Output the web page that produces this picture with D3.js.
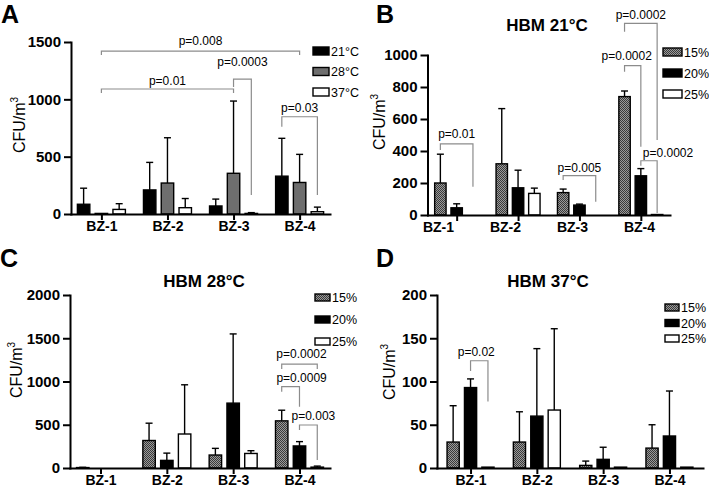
<!DOCTYPE html>
<html>
<head>
<meta charset="utf-8">
<script src="https://cdnjs.cloudflare.com/ajax/libs/d3/7.8.5/d3.min.js"></script>
<style>
  html, body { margin: 0; padding: 0; background: #fff; }
  svg { display: block; font-family: Arial, "Liberation Sans", Helvetica, sans-serif; }
</style>
</head>
<body>
<div id="chart"></div>
<script>
// categories and legend labels
const categories = ['BZ-1', 'BZ-2', 'BZ-3', 'BZ-4'];
const tempLabels = ['21°C', '28°C', '37°C'];
const humLabels = ['15%', '20%', '25%'];

// A: mean and top of error bar (CFU/m3)
const aMean21 = [85, 210, 70, 330];
const aTop21 = [225, 450, 130, 660];
const aMean28 = [5, 270, 355, 275];
const aTop28 = [5, 665, 985, 520];
const aMean37 = [40, 55, 5, 20];
const aTop37 = [90, 135, 12, 60];

// B: HBM 21°C
const bMean15 = [200, 320, 140, 740];
const bTop15 = [380, 665, 162, 775];
const bMean20 = [45, 170, 62, 245];
const bTop20 = [70, 280, 68, 290];
const bMean25 = [0, 135, 0, 3];
const bTop25 = [0, 168, 0, 3];

// C: HBM 28°C
const cMean15 = [5, 318, 150, 545];
const cTop15 = [8, 518, 227, 668];
const cMean20 = [0, 88, 750, 255];
const cTop20 = [0, 172, 1550, 305];
const cMean25 = [0, 393, 168, 10];
const cTop25 = [0, 962, 200, 22];

// D: HBM 37°C
const dMean15 = [30, 30, 3, 23];
const dTop15 = [72, 65, 8, 50];
const dMean20 = [93, 60, 10, 37];
const dTop20 = [103, 138, 24, 89];
const dMean25 = [1, 67, 1, 1];
const dTop25 = [1, 161, 1, 1];

// significance brackets: [cat1, series1, cat2, series2, top, leftEnd, rightEnd, label]
const aBrackets = [
  ['BZ-1', 1, 'BZ-4', 1, 1421, 1386, 1386, 'p=0.008'],
  ['BZ-1', 1, 'BZ-3', 1, 1090, 1055, 1055, 'p=0.01'],
  ['BZ-3', 1, 'BZ-3', 2, 1177, 1107, 165, 'p=0.0003'],
  ['BZ-4', 0, 'BZ-4', 2, 848, 761, 165, 'p=0.03']
];
const bBrackets = [
  ['BZ-1', 0, 'BZ-1', 2, 444, 406, 177, 'p=0.01'],
  ['BZ-3', 0, 'BZ-3', 2, 246, 219, 83, 'p=0.005'],
  ['BZ-4', 0, 'BZ-4', 2, 1198, 1146, 469, 'p=0.0002'],
  ['BZ-4', 0, 'BZ-4', 1, 933, 896, 427, 'p=0.0002'],
  ['BZ-4', 1, 'BZ-4', 2, 339, 308, 12, 'p=0.0002']
];
const cBrackets = [
  ['BZ-4', 0, 'BZ-4', 2, 1202, 1145, 1145, 'p=0.0002'],
  ['BZ-4', 0, 'BZ-4', 1, 940, 882, 709, 'p=0.0009'],
  ['BZ-4', 1, 'BZ-4', 2, 497, 439, 92, 'p=0.003']
];
const dBrackets = [
  ['BZ-1', 1, 'BZ-1', 2, 124, 112, 77, 'p=0.02']
];

const W = 709, H = 496;
const GRAY = '#6e6e6e';
const BRACKET = '#8c8c8c';

const svg = d3.select('#chart').append('svg').attr('width', W).attr('height', H);

const defs = svg.append('defs');
const pat = defs.append('pattern').attr('id', 'chk')
  .attr('width', 2).attr('height', 2).attr('patternUnits', 'userSpaceOnUse');
pat.append('rect').attr('width', 2).attr('height', 2).attr('fill', '#9a9a9a');
pat.append('rect').attr('width', 1).attr('height', 1).attr('fill', '#3a3a3a');
pat.append('rect').attr('x', 1).attr('y', 1).attr('width', 1).attr('height', 1).attr('fill', '#3a3a3a');

const tempFills = ['#000', GRAY, '#fff'];
const humFills = ['url(#chk)', '#000', '#fff'];

const panels = [
  {
    letter: 'A', lx: 1, ly: 23, title: null,
    yMax: 1500, ticks: [0, 500, 1000, 1500], y0: 214, yTop: 42,
    x0: 71, x1: 330, pad: 0.46, half: 24,
    series: tempLabels, fills: tempFills,
    means: [aMean21, aMean28, aMean37], tops: [aTop21, aTop28, aTop37],
    brackets: aBrackets, labelLift: [6, 4, 13, 5], labelDx: [0, 0, 0, 0],
    ylabX: 25, ylabY: 125,
    legX: 313, legY: 47, legW: 16, legH: 8, legStep: 20.5
  },
  {
    letter: 'B', lx: 376, ly: 23, title: 'HBM 21°C', tx: 547, ty: 31,
    yMax: 1000, ticks: [0, 200, 400, 600, 800, 1000], y0: 215, yTop: 55,
    x0: 427.5, x1: 670, pad: 0.475, half: 22, labels: [438, 639],
    series: humLabels, fills: humFills,
    means: [bMean15, bMean20, bMean25], tops: [bTop15, bTop20, bTop25],
    brackets: bBrackets, labelLift: [6, 4, 4, 6, 4], labelDx: [0, 0, 0, -6, 19],
    ylabX: 385, ylabY: 122,
    legX: 663, legY: 48, legW: 19, legH: 8, legStep: 21
  },
  {
    letter: 'C', lx: 0, ly: 267, title: 'HBM 28°C', tx: 204, ty: 287,
    yMax: 2000, ticks: [0, 500, 1000, 1500, 2000], y0: 468, yTop: 295,
    x0: 70, x1: 330, pad: 0.46, half: 24,
    series: humLabels, fills: humFills,
    means: [cMean15, cMean20, cMean25], tops: [cTop15, cTop20, cTop25],
    brackets: cBrackets, labelLift: [6, 5, 5], labelDx: [2, 11, 5],
    ylabX: 22, ylabY: 370,
    legX: 315, legY: 294, legW: 15, legH: 7, legStep: 22
  },
  {
    letter: 'D', lx: 376, ly: 267, title: 'HBM 37°C', tx: 548, ty: 287,
    yMax: 200, ticks: [0, 50, 100, 150, 200], y0: 468, yTop: 295,
    x0: 437, x1: 703, pad: 0.506, half: 23.5,
    series: humLabels, fills: humFills,
    means: [dMean15, dMean20, dMean25], tops: [dTop15, dTop20, dTop25],
    brackets: dBrackets, labelLift: [5], labelDx: [-3],
    ylabX: 395, ylabY: 372,
    legX: 665, legY: 304, legW: 14, legH: 7, legStep: 15.5
  }
];

panels.forEach(drawPanel);

function drawPanel(p) {
  const g = svg.append('g');
  const y = d3.scaleLinear().domain([0, p.yMax]).range([p.y0, p.yTop]);
  const x = d3.scalePoint().domain(categories).range([p.x0, p.x1]).padding(p.pad);
  const sub = d3.scaleBand().domain(d3.range(p.series.length)).range([-p.half, p.half]).paddingInner(0.3);
  const bw = sub.bandwidth();
  const cx = (c, s) => x(c) + sub(s) + bw / 2;

  // bars
  p.series.forEach((name, si) => {
    const rows = categories.map((c, i) => ({ c, v: p.means[si][i], top: p.tops[si][i] }));
    g.selectAll(null)
      .data(rows.filter((d) => d.v > 0))
      .enter()
      .append('rect')
      .attr('x', (d) => x(d.c) + sub(si))
      .attr('y', (d) => y(d.v))
      .attr('width', bw)
      .attr('height', (d) => y(0) - y(d.v))
      .attr('fill', p.fills[si])
      .attr('stroke', '#000')
      .attr('stroke-width', 1.4);

    const err = rows.filter((d) => d.top > d.v);
    g.selectAll(null)
      .data(err)
      .enter()
      .append('line')
      .attr('x1', (d) => cx(d.c, si))
      .attr('x2', (d) => cx(d.c, si))
      .attr('y1', (d) => y(d.v))
      .attr('y2', (d) => y(d.top))
      .attr('stroke', '#000')
      .attr('stroke-width', 1.4);
    g.selectAll(null)
      .data(err)
      .enter()
      .append('line')
      .attr('x1', (d) => cx(d.c, si) - 3.5)
      .attr('x2', (d) => cx(d.c, si) + 3.5)
      .attr('y1', (d) => y(d.top))
      .attr('y2', (d) => y(d.top))
      .attr('stroke', '#000')
      .attr('stroke-width', 1.4);
  });

  // axes
  const ya = g.append('g')
    .attr('transform', `translate(${p.x0},0)`)
    .call(d3.axisLeft(y).tickValues(p.ticks).tickSize(7).tickPadding(3).tickSizeOuter(0).tickFormat(d3.format('d')));
  ya.selectAll('text').attr('fill', '#000').style('font-size', '15px').style('font-weight', 'bold');

  const xa = g.append('g')
    .attr('transform', `translate(0,${p.y0})`)
    .call(d3.axisBottom(x).tickSize(6).tickPadding(1).tickSizeOuter(0));
  xa.selectAll('text').attr('fill', '#000').style('font-size', '14px').style('font-weight', 'bold');
  if (p.labels) {
    const lx = d3.scalePoint().domain(categories).range(p.labels);
    xa.selectAll('.tick text').attr('x', (d) => lx(d) - x(d));
  }
  [ya, xa].forEach((a) => {
    a.select('.domain').attr('stroke', '#000').attr('stroke-width', 2).attr('stroke-linecap', 'square');
    a.selectAll('.tick line').attr('stroke', '#000').attr('stroke-width', 2);
  });

  // significance brackets
  p.brackets.forEach((b, i) => {
    const [c1, s1, c2, s2, top, l, r, label] = b;
    const xl = cx(c1, s1), xr = cx(c2, s2);
    g.append('path')
      .attr('d', `M${xl},${y(l)}V${y(top)}H${xr}V${y(r)}`)
      .attr('fill', 'none')
      .attr('stroke', BRACKET)
      .attr('stroke-width', 1.2);
    g.append('text')
      .attr('x', (xl + xr) / 2 + p.labelDx[i])
      .attr('y', y(top) - p.labelLift[i])
      .attr('text-anchor', 'middle')
      .style('font-size', '12px')
      .text(label);
  });

  // legend
  p.series.forEach((name, si) => {
    const yy = p.legY + si * p.legStep;
    g.append('rect')
      .attr('x', p.legX).attr('y', yy)
      .attr('width', p.legW).attr('height', p.legH)
      .attr('fill', p.fills[si]).attr('stroke', '#000').attr('stroke-width', 1.4);
    g.append('text')
      .attr('x', p.legX + p.legW + 2)
      .attr('y', yy + p.legH / 2)
      .attr('dy', '0.36em')
      .style('font-size', '12.5px')
      .text(name);
  });

  // y title
  const yt = g.append('text')
    .attr('transform', `translate(${p.ylabX},${p.ylabY}) rotate(-90)`)
    .attr('text-anchor', 'middle')
    .style('font-size', '16px');
  yt.append('tspan').text('CFU/m');
  yt.append('tspan').attr('dy', -7).style('font-size', '10px').text('3');

  if (p.title) {
    g.append('text')
      .attr('x', p.tx).attr('y', p.ty)
      .attr('text-anchor', 'middle')
      .style('font-size', '17px').style('font-weight', 'bold')
      .text(p.title);
  }

  g.append('text')
    .attr('x', p.lx).attr('y', p.ly)
    .style('font-size', '25px').style('font-weight', 'bold')
    .text(p.letter);
}
</script>
</body>
</html>
